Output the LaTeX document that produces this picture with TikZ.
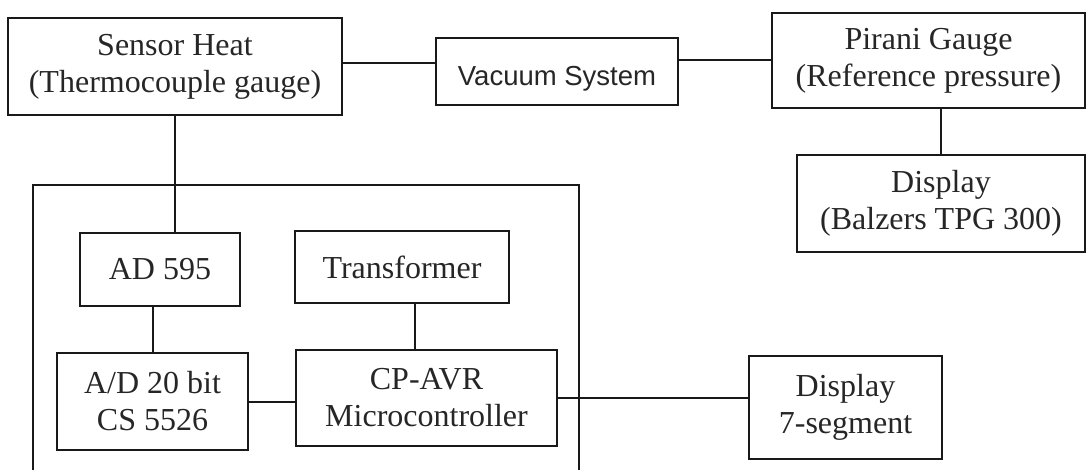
\documentclass[tikz,border=0pt]{standalone}
\usepackage{fontspec}
\setmainfont{Liberation Serif}
\newfontfamily\vacfont{Liberation Sans}
\begin{document}
\begin{tikzpicture}[x=1pt,y=-1pt,
  blk/.style={draw=black!90, line width=2pt, rectangle, inner sep=0pt, outer sep=0pt, align=center,
              font=\fontsize{32}{37}\selectfont, text=black!85},
  wire/.style={draw=black!90, line width=2pt}]
\useasboundingbox[fill=white] (0,0) rectangle (1089,470);
% outer enclosure (open at the bottom edge of the picture)
\coordinate (oBL) at (33,470);
\coordinate (oTL) at (33,185);
\coordinate (oTR) at (579,185);
\coordinate (oBR) at (579,470);
\draw[wire] (oBL) -- (oTL) -- (oTR) -- (oBR);
% blocks
\node[blk, minimum width=334pt, minimum height=97pt] (sensor) at (175,66.5) {Sensor Heat\\(Thermocouple gauge)};
\node[blk, minimum width=242pt, minimum height=67pt, font=\vacfont\fontsize{27.5}{32}\selectfont] (vac) at (557,71.5) {\raisebox{-14pt}[0pt][0pt]{Vacuum System}};
\node[blk, minimum width=313pt, minimum height=95pt] (pirani) at (928.5,60.5) {Pirani Gauge\\(Reference pressure)};
\node[blk, minimum width=288pt, minimum height=97pt] (balzers) at (941,203.5) {Display\\(Balzers TPG 300)};
\node[blk, minimum width=160pt, minimum height=73pt] (ad) at (160,269.5) {AD 595};
\node[blk, minimum width=214pt, minimum height=72pt] (trans) at (402,267) {Transformer};
\node[blk, minimum width=191pt, minimum height=97pt] (adc) at (152.5,401.5) {A/D 20 bit\\CS 5526};
\node[blk, minimum width=261pt, minimum height=96pt] (cpu) at (426.5,398) {CP-AVR\\Microcontroller};
\node[blk, minimum width=193pt, minimum height=103pt] (seg) at (845.5,407.5) {Display\\7-segment};
% connectors
\draw[wire] ([yshift=3.5pt]sensor.east) -- ([yshift=3.5pt]sensor.east -| vac.west);
\draw[wire] (pirani.west) -- (pirani.west -| vac.east);
\draw[wire] (sensor.south) -- (sensor.south |- ad.north);
\draw[wire] (adc.north) -- (adc.north |- ad.south);
\draw[wire] ([xshift=13pt]trans.south) -- ([xshift=13pt]trans.south |- cpu.north);
\draw[wire] (adc.east) -- (adc.east -| cpu.west);
\draw[wire] (cpu.east) -- (cpu.east -| seg.west);
\draw[wire] (balzers.north) -- (balzers.north |- pirani.south);
\end{tikzpicture}
\end{document}
